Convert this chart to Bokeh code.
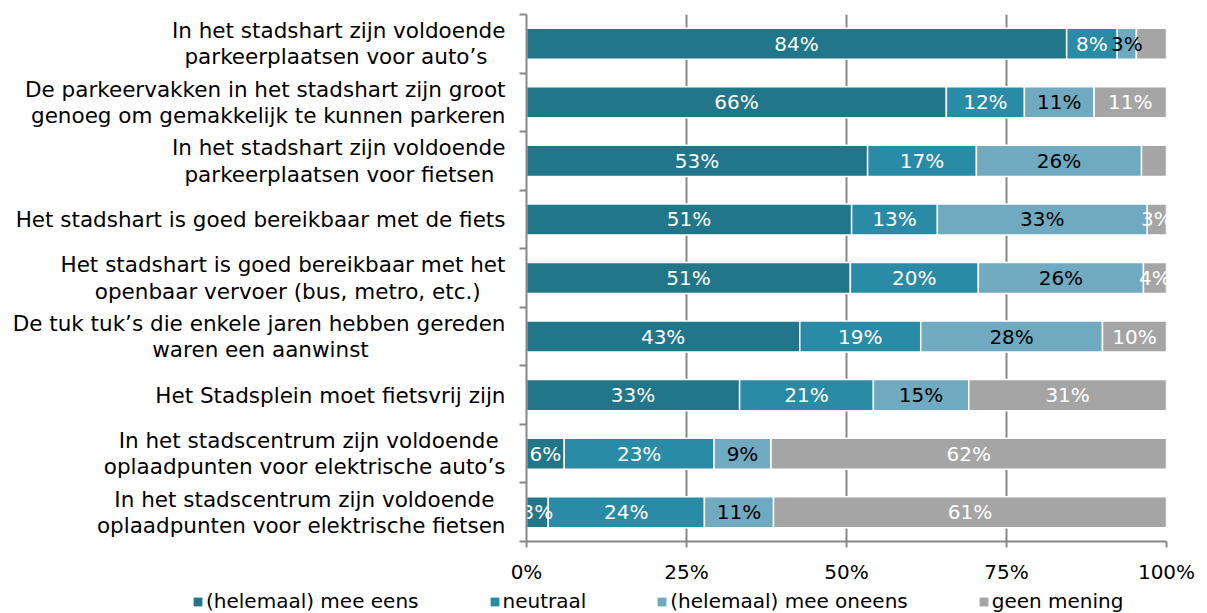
from bokeh.plotting import figure
from bokeh.layouts import column
from bokeh.models import ColumnDataSource, FixedTicker, PrintfTickFormatter, Legend, LegendItem
from bokeh.core.properties import value
from bokeh.embed import file_html
from bokeh.resources import INLINE

categories = [
    "In het stadshart zijn voldoende\nparkeerplaatsen voor auto\u2019s",
    "De parkeervakken in het stadshart zijn groot\ngenoeg om gemakkelijk te kunnen parkeren",
    "In het stadshart zijn voldoende\nparkeerplaatsen voor fietsen",
    "Het stadshart is goed bereikbaar met de fiets",
    "Het stadshart is goed bereikbaar met het\nopenbaar vervoer (bus, metro, etc.)",
    "De tuk tuk\u2019s die enkele jaren hebben gereden\nwaren een aanwinst",
    "Het Stadsplein moet fietsvrij zijn",
    "In het stadscentrum zijn voldoende\noplaadpunten voor elektrische auto\u2019s",
    "In het stadscentrum zijn voldoende\noplaadpunten voor elektrische fietsen",
]
series_names = ["(helemaal) mee eens", "neutraal", "(helemaal) mee oneens", "geen mening"]
mee_eens = [84.4, 65.6, 53.3, 50.8, 50.6, 42.7, 33.3, 5.9, 3.4]
neutraal = [7.9, 12.2, 17.0, 13.4, 20.0, 18.9, 20.9, 23.4, 24.4]
mee_oneens = [3.0, 10.9, 25.8, 32.8, 25.8, 28.4, 14.9, 8.9, 10.8]
geen_mening = [4.7, 11.3, 3.9, 3.0, 3.6, 10.0, 30.9, 61.8, 61.4]
hidden_labels = [(0, 3), (2, 3)]  # (row, series) without a data label
x_ticks = [0, 25, 50, 75, 100]

# layout only: px of right-side indent per (category, line) to mimic centred wrapped lines
line_indent_px = {(0, 1): 17, (2, 1): 13, (4, 1): 27, (5, 1): 138, (7, 0): 7, (8, 0): 10}

colors = ["#22768A", "#2A8BA6", "#6FAAC1", "#A5A5A5"]
label_colors = ["white", "white", "black", "white"]
FONT = "DejaVu Sans"
FS = "20px"
CAT_FS = 21.5
FRAME_LEFT, FRAME_W, RIGHT_PAD = 526, 640, 41
TOTAL_W = FRAME_LEFT + FRAME_W + RIGHT_PAD


def indent(px):
    nb = int(px // (0.318 * CAT_FS))
    rest = px - nb * 0.318 * CAT_FS
    return "\u00a0" * nb + ("\u2009" if rest > 0.1 * CAT_FS else "")


cat_labels = []
for i, c in enumerate(categories):
    lines = c.split("\n")
    lines = [ln + indent(line_indent_px.get((i, k), 0)) for k, ln in enumerate(lines)]
    cat_labels.append("\n".join(lines))

n = len(categories)
ypos = [n - 1 - i + 0.5 for i in range(n)]
keys = ["s0", "s1", "s2", "s3"]
series = [mee_eens, neutraal, mee_oneens, geen_mening]
data = {"y": ypos}
for k, s in zip(keys, series):
    data[k] = s
source = ColumnDataSource(data)

p = figure(
    frame_width=FRAME_W, frame_height=527,
    x_range=(0, 100), y_range=(0, n),
    output_backend="svg", toolbar_location=None,
    min_border_left=FRAME_LEFT, min_border_right=RIGHT_PAD, min_border_top=14, min_border_bottom=45,
)
p.outline_line_color = None

p.hbar_stack(keys, y="y", height=0.53, color=colors, line_color="white",
             line_width=1.5, source=source)

# data labels
lx, ly, lt, lc = [], [], [], []
for i in range(n):
    left = 0.0
    for j, s in enumerate(series):
        v = s[i]
        if (i, j) not in hidden_labels:
            lx.append(left + v / 2)
            ly.append(ypos[i])
            lt.append(f"{int(round(v))}%")
            lc.append(label_colors[j])
        left += v
p.text(x=lx, y=ly, text=lt, text_color=lc, text_align="center", text_baseline="middle",
       text_font=value(FONT), text_font_size=FS)

grid_color = "#878787"
# x axis
p.xaxis.ticker = FixedTicker(ticks=x_ticks)
p.xaxis.formatter = PrintfTickFormatter(format="%d%%")
p.xaxis.axis_line_color = grid_color
p.xaxis.axis_line_width = 2
p.xaxis.major_tick_line_color = grid_color
p.xaxis.major_tick_line_width = 2
p.xaxis.major_tick_out = 6
p.xaxis.major_tick_in = 0
p.xaxis.minor_tick_line_color = None
p.xaxis.major_label_text_font = FONT
p.xaxis.major_label_text_font_size = FS
p.xaxis.major_label_text_color = "black"
p.xaxis.major_label_standoff = 12

p.xgrid.ticker = FixedTicker(ticks=x_ticks)
p.xgrid.grid_line_color = grid_color
p.xgrid.grid_line_width = 2
p.ygrid.grid_line_color = None

# y axis
p.yaxis.ticker = FixedTicker(ticks=ypos, minor_ticks=list(range(n + 1)))
p.yaxis.major_label_overrides = {y: c for y, c in zip(ypos, cat_labels)}
p.yaxis.axis_line_color = grid_color
p.yaxis.axis_line_width = 2
p.yaxis.major_tick_line_color = None
p.yaxis.major_tick_out = 0
p.yaxis.major_tick_in = 0
p.yaxis.minor_tick_line_color = grid_color
p.yaxis.minor_tick_line_width = 2
p.yaxis.minor_tick_out = 7
p.yaxis.minor_tick_in = 0
p.yaxis.major_label_text_font = FONT
p.yaxis.major_label_text_font_size = f"{CAT_FS}px"
p.yaxis.major_label_text_color = "black"
p.yaxis.major_label_text_line_height = 1.05
p.yaxis.major_label_standoff = 14

# legend strip below the chart (its bars lie outside its visible ranges)
lf = figure(width=TOTAL_W, height=27, x_range=(-20, -10), y_range=(100, 101),
            output_backend="svg", toolbar_location=None,
            x_axis_location=None, y_axis_location=None,
            min_border_left=0, min_border_right=0, min_border_top=0, min_border_bottom=0)
if "frame_align" in lf.properties():
    lf.frame_align = False
    p.frame_align = False
lf.outline_line_color = None
lf.xgrid.grid_line_color = None
lf.ygrid.grid_line_color = None
leg_renderers = lf.hbar_stack(keys, y="y", height=0.53, color=colors, line_color=None,
                              source=source)

lg = Legend(items=[LegendItem(label=nm, renderers=[r]) for nm, r in zip(series_names, leg_renderers)])
lg.orientation = "horizontal"
lg.location = (192, 0)
lg.border_line_color = None
lg.background_fill_alpha = 0
lg.padding = 0
lg.margin = 0
lg.spacing = 70
lg.glyph_width = 11
lg.glyph_height = 11
lg.label_standoff = 3
lg.label_height = 20
lg.label_text_font = FONT
lg.label_text_font_size = FS
lg.label_text_color = "black"
lf.add_layout(lg, "center")

layout = column(p, lf, spacing=0)
open("out.html", "w").write(file_html(layout, INLINE))
